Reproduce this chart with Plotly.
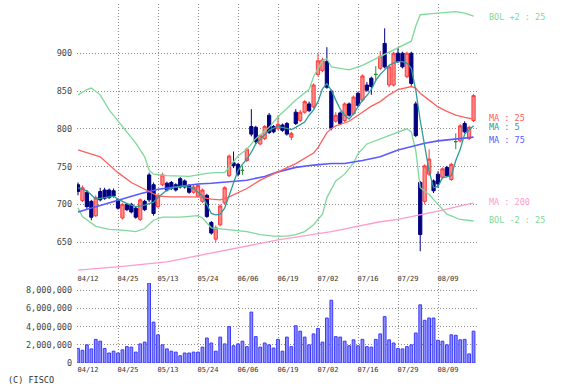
import plotly.graph_objects as go

# ---------------- data ----------------
dates = ["04/12", "04/15", "04/16", "04/17", "04/18", "04/19", "04/22", "04/23", "04/24", "04/25",
         "04/26", "04/30", "05/01", "05/02", "05/07", "05/08", "05/09", "05/10", "05/13", "05/14",
         "05/15", "05/16", "05/17", "05/20", "05/21", "05/22", "05/23", "05/24", "05/27", "05/28",
         "05/29", "05/30", "05/31", "06/03", "06/04", "06/05", "06/06", "06/07", "06/10", "06/11",
         "06/12", "06/13", "06/14", "06/17", "06/18", "06/19", "06/20", "06/21", "06/24", "06/25",
         "06/26", "06/27", "06/28", "07/01", "07/02", "07/03", "07/04", "07/05", "07/08", "07/09",
         "07/10", "07/11", "07/12", "07/16", "07/17", "07/18", "07/19", "07/22", "07/23", "07/24",
         "07/25", "07/26", "07/29", "07/30", "07/31", "08/01", "08/02", "08/05", "08/06", "08/07",
         "08/08", "08/09", "08/13", "08/14", "08/15", "08/16", "08/19", "08/20", "08/21", "08/22"]

opens = [726, 705, 716, 704, 685, 717, 719, 719, 718, 706,
         682, 700, 700, 695, 680, 704, 739, 726, 697, 726,
         728, 729, 726, 734, 731, 725, 716, 711, 704, 712,
         676, 654, 673, 702, 738, 755, 753, 745, 758, 803,
         802, 780, 787, 818, 803, 800, 805, 807, 789, 822,
         811, 822, 833, 829, 872, 877, 889, 850, 810, 821,
         811, 833, 820, 847, 838, 858, 867, 872, 880, 913,
         858, 858, 900, 900, 869, 900, 833, 729, 704, 740,
         731, 740, 736, 749, 733, 783, 784, 807, 787, 811]
highs = [729, 725, 719, 706, 712, 722, 722, 721, 721, 708,
         702, 702, 702, 697, 708, 706, 742, 729, 714, 742,
         730, 731, 728, 736, 733, 727, 726, 727, 721, 714,
         678, 672, 700, 724, 766, 770, 755, 751, 775, 826,
         804, 793, 805, 821, 805, 818, 807, 809, 796, 826,
         825, 838, 836, 860, 900, 894, 908, 852, 822, 823,
         835, 835, 844, 849, 872, 862, 869, 883, 903, 933,
         884, 902, 907, 902, 902, 902, 836, 731, 753, 773,
         733, 744, 749, 751, 755, 794, 806, 810, 804, 846]
lows = [712, 703, 694, 679, 683, 704, 706, 707, 709, 693,
        680, 691, 688, 681, 678, 691, 703, 685, 695, 724,
        717, 719, 717, 721, 721, 714, 714, 709, 702, 682,
        660, 650, 671, 700, 736, 748, 737, 739, 756, 790,
        780, 778, 785, 793, 794, 798, 796, 791, 785, 805,
        809, 820, 822, 827, 869, 875, 853, 798, 808, 805,
        809, 816, 818, 829, 836, 849, 845, 864, 878, 880,
        855, 856, 887, 880, 867, 857, 789, 638, 700, 738,
        715, 722, 734, 736, 731, 773, 782, 794, 785, 809]
closes = [717, 722, 697, 683, 709, 706, 708, 709, 711, 695,
          700, 693, 690, 683, 706, 693, 706, 688, 712, 739,
          719, 721, 719, 723, 723, 716, 723, 725, 719, 684,
          662, 669, 698, 722, 764, 751, 740, 745, 773, 793,
          783, 791, 803, 795, 796, 806, 798, 793, 794, 807,
          822, 836, 824, 858, 890, 891, 855, 801, 818, 807,
          833, 818, 842, 831, 870, 851, 856, 872, 896, 882,
          882, 900, 889, 882, 900, 860, 791, 660, 751, 760,
          718, 727, 747, 738, 753, 783, 804, 796, 802, 844]

volume_m = [1.6, 1.4, 2.0, 1.55, 2.6, 2.4, 1.6, 1.1, 1.3, 1.1,
            1.45, 1.8, 1.75, 1.2, 2.1, 2.3, 8.8, 4.5, 3.1, 2.0,
            1.55, 1.3, 1.2, 0.8, 1.1, 1.1, 1.2, 1.2, 1.75, 2.75,
            2.2, 1.3, 2.85, 2.1, 4.0, 1.9, 2.1, 2.4, 1.8, 5.6,
            2.9, 1.75, 2.2, 2.0, 1.65, 2.6, 1.3, 2.85, 1.8, 4.1,
            3.5, 2.85, 2.0, 3.2, 3.8, 2.3, 4.95, 6.9, 2.9, 2.85,
            2.4, 1.9, 2.55, 1.9, 2.6, 1.8, 1.75, 2.6, 3.2, 5.1,
            2.55, 2.2, 1.6, 1.55, 1.8, 2.0, 3.3, 6.4, 4.7, 4.95,
            4.95, 2.5, 2.4, 2.0, 3.1, 3.05, 2.55, 2.6, 1.0, 3.5]

# moving averages / bands read at sample days (day index, value)
ma5_idx = [0, 2, 4, 6, 8, 9, 11, 13, 15, 17, 18, 20, 22, 24, 26, 27, 28, 29, 30, 31, 32, 33, 34,
           35, 36, 37, 38, 39, 40, 41, 42, 43, 44, 45, 46, 48, 49, 51, 52, 53, 54, 55, 56, 57, 58,
           59, 60, 61, 62, 63, 64, 65, 66, 67, 68, 69, 70, 71, 72, 73, 74, 75, 76, 77, 78, 79, 80,
           81, 82, 83, 84, 85, 86, 87, 88, 89]
ma5_val = [722, 718, 707, 709, 711, 707, 701, 697, 699, 703, 709, 719, 723, 724, 721, 716, 711, 700,
           688, 686, 687, 695, 712, 730, 745, 753, 760, 769, 780, 786, 792, 798, 801, 803, 802, 799,
           802, 809, 818, 825, 836, 853, 860, 851, 838, 826, 818, 813, 820, 829, 838, 844, 852, 864,
           872, 878, 884, 887, 889, 889, 887, 880, 851, 811, 776, 744, 722, 724, 735, 736, 738, 758,
           773, 793, 799, 804]

ma25_idx = [0, 5, 9, 12, 15, 18, 21, 24, 27, 30, 32, 34, 36, 38, 41, 45, 49, 53, 54, 55, 56, 57,
            58, 59, 61, 63, 66, 68, 70, 72, 74, 75, 76, 77, 79, 81, 83, 85, 87, 89]
ma25_val = [772, 763, 742, 729, 720, 711, 710, 710, 710, 707, 706, 710, 716, 721, 732, 743, 754,
            768, 775, 785, 795, 800, 804, 806, 810, 818, 830, 836, 845, 852, 855, 856, 854, 847,
            838, 829, 823, 818, 815, 813]

ma75_idx = [0, 4, 9, 14, 18, 22, 27, 30, 34, 38, 42, 45, 49, 53, 57, 60, 64, 68, 72, 75, 78, 81,
            85, 89]
ma75_val = [690, 697, 706, 714, 720, 723, 727, 728, 730, 732, 737, 743, 749, 752, 754, 754, 758,
            763, 772, 777, 781, 784, 786, 789]

ma200_idx = [0, 10, 20, 27, 35, 45, 57, 68, 72, 81, 89]
ma200_val = [613, 618, 624, 632, 641, 653, 664, 677, 680, 691, 702]

bolu_idx = [0, 2, 3, 5, 7, 9, 11, 13, 15, 16, 17, 20, 25, 29, 31, 33, 34, 36, 38, 40, 43, 45, 47,
            49, 52, 53, 55, 56, 57, 59, 61, 64, 67, 70, 73, 75, 76, 77, 79, 81, 85, 87, 89]
bolu_val = [845, 852, 854, 845, 825, 810, 796, 781, 763, 745, 740, 738, 737, 741, 742, 742, 749,
            764, 773, 787, 802, 816, 827, 838, 852, 869, 890, 893, 882, 880, 878, 884, 893, 902,
            910, 916, 936, 951, 952, 953, 955, 953, 949]

boll_idx = [0, 1, 4, 7, 10, 13, 15, 17, 19, 23, 27, 28, 30, 33, 36, 38, 41, 44, 47, 49, 51, 53,
            55, 56, 58, 60, 62, 63, 65, 68, 71, 74, 75, 76, 77, 79, 81, 83, 86, 89]
boll_val = [695, 684, 671, 667, 666, 664, 668, 679, 683, 683, 685, 682, 669, 667, 665, 664, 660,
            658, 658, 660, 664, 673, 687, 709, 731, 740, 755, 767, 780, 787, 793, 800, 796, 771,
            722, 713, 700, 687, 680, 678]

tick_labels = ["04/12", "04/25", "05/13", "05/24", "06/06", "06/19", "07/02", "07/16", "07/29", "08/09"]
price_ticks = [650, 700, 750, 800, 850, 900]
volume_ticks = [0, 2000000, 4000000, 6000000, 8000000]

legend_names = ["BOL +2 : 25", "MA : 25", "MA : 5", "MA : 75", "MA : 200", "BOL -2 : 25"]
legend_y = [948, 814, 803, 785, 703, 679]

# ---------------- styles ----------------
C_UP_LINE, C_UP_FILL = "#ff3b3b", "#ff8a8a"
C_DN = "#000080"
C_DOJI = "#2e8b2e"
C_BOL = "#7fd99a"
C_MA5 = "#2f9a9a"
C_MA25 = "#ff6060"
C_MA75 = "#5a5aff"
C_MA200 = "#ff9ccc"
GRID = "#8c8c8c"
MONO = "DejaVu Sans Mono"

fig = go.Figure()


def subset(cond):
    idx = [i for i in range(len(dates)) if cond(opens[i], closes[i])]
    return ([dates[i] for i in idx], [opens[i] for i in idx], [highs[i] for i in idx],
            [lows[i] for i in idx], [closes[i] for i in idx])


def add_line(idx, val, color, width=1.3):
    fig.add_trace(go.Scatter(x=[dates[i] for i in idx], y=val, mode="lines",
                             line=dict(color=color, width=width), hoverinfo="skip",
                             xaxis="x", yaxis="y"))


add_line(ma200_idx, ma200_val, C_MA200)
add_line(bolu_idx, bolu_val, C_BOL)
add_line(boll_idx, boll_val, C_BOL)
add_line(ma75_idx, ma75_val, C_MA75, 1.6)
add_line(ma25_idx, ma25_val, C_MA25)

for cond, lc, fc in [(lambda o, c: c > o, C_UP_LINE, C_UP_FILL),
                     (lambda o, c: c < o, C_DN, C_DN),
                     (lambda o, c: c == o, C_DOJI, C_DOJI)]:
    x, o, h, l, c = subset(cond)
    fig.add_trace(go.Candlestick(
        x=x, open=o, high=h, low=l, close=c, xaxis="x", yaxis="y",
        increasing=dict(line=dict(color=lc, width=1), fillcolor=fc),
        decreasing=dict(line=dict(color=lc, width=1), fillcolor=fc),
        whiskerwidth=0, hoverinfo="skip"))

add_line(ma5_idx, ma5_val, C_MA5)

fig.add_trace(go.Bar(x=dates, y=[v * 1e6 for v in volume_m], xaxis="x2", yaxis="y2",
                     width=0.62, marker=dict(color="#8c8cff", line=dict(color="#3a3aff", width=1)),
                     hoverinfo="skip"))

legend_colors = [C_BOL, C_MA25, C_MA5, C_MA75, C_MA200, C_BOL]
for name, yv, col in zip(legend_names, legend_y, legend_colors):
    fig.add_annotation(text=name, xref="paper", yref="y", x=1.022, y=yv, xanchor="left",
                       yanchor="middle", showarrow=False, font=dict(family=MONO, size=8.5, color=col))

fig.add_annotation(text="(C) FISCO", xref="paper", yref="paper", x=-0.177, y=-0.046,
                   xanchor="left", yanchor="middle", showarrow=False,
                   font=dict(family=MONO, size=8.5, color="#333333"))

xcommon = dict(type="category", categoryorder="array", categoryarray=dates,
               range=[-0.225, 90], tickmode="array", tickvals=tick_labels, ticktext=tick_labels,
               showgrid=True, gridcolor=GRID, gridwidth=1, griddash="1px,2px",
               zeroline=False, showline=False, ticks="", automargin=False,
               tickfont=dict(family=MONO, size=7, color="#333333"),
               ticklabelshift=10, ticklabelstandoff=1)

yfont = dict(family=MONO, size=8.5, color="#444444")
fig.update_layout(
    width=567, height=387,
    margin=dict(l=77, r=89, t=4, b=24, autoexpand=False),
    paper_bgcolor="white", plot_bgcolor="white",
    showlegend=False,
    boxgap=0.15, boxgroupgap=0.15,
    xaxis=dict(domain=[0, 1], anchor="y", rangeslider=dict(visible=False), **xcommon),
    xaxis2=dict(domain=[0, 1], anchor="y2", matches="x", **xcommon),
    yaxis=dict(domain=[0.2535, 1], range=[610.5, 965.2], tickvals=price_ticks,
               showgrid=True, gridcolor=GRID, griddash="1px,2px", zeroline=False, showline=False,
               ticks="", ticklabelstandoff=4, automargin=False, tickfont=yfont),
    yaxis2=dict(domain=[0, 0.2228], range=[0, 8.8e6], tickvals=volume_ticks, tickformat=",d",
                showgrid=True, gridcolor=GRID, griddash="1px,2px", zeroline=False, showline=False,
                ticks="", ticklabelstandoff=4, automargin=False, tickfont=yfont),
)

fig.write_html("out.html", config={"displayModeBar": False, "staticPlot": True},
               post_script="document.body.style.margin='0px';document.body.style.overflow='hidden';")
